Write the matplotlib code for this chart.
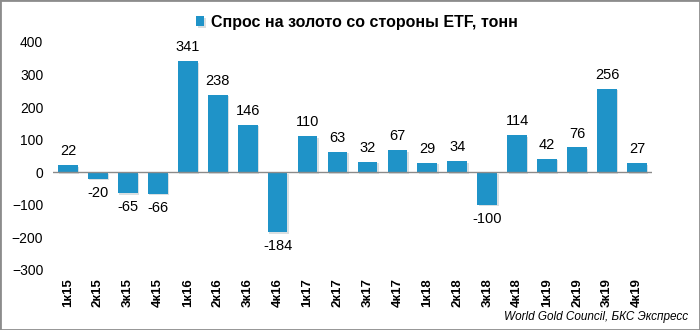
import matplotlib
matplotlib.use('Agg')
import matplotlib.pyplot as plt
import matplotlib.patheffects as pe
from matplotlib.patches import Rectangle

plt.rcParams['font.family'] = ['Liberation Sans', 'DejaVu Sans']

# ETF gold demand by quarter, tonnes
quarters = ['1к15', '2к15', '3к15', '4к15', '1к16', '2к16', '3к16', '4к16',
            '1к17', '2к17', '3к17', '4к17', '1к18', '2к18', '3к18', '4к18',
            '1к19', '2к19', '3к19', '4к19']
demand = [22, -20, -65, -66, 341, 238, 146, -184, 110, 63, 32, 67,
          29, 34, -100, 114, 42, 76, 256, 27]

bar_color = '#1f93c8'

fig = plt.figure(figsize=(7, 3.3), dpi=100)
ax = fig.add_axes([0.0757, 0.182, 0.8557, 0.691])

x = range(len(quarters))
bars = ax.bar(x, demand, width=0.66, color=bar_color,
              label='Спрос на золото со стороны ETF, тонн', zorder=2)
for b in bars:
    b.set_path_effects([pe.SimplePatchShadow(offset=(1, -1.2), alpha=0.15),
                        pe.Normal()])

# value labels above positive bars, below negative ones
for xi, v in zip(x, demand):
    off = 5 if v >= 0 else -5
    ax.annotate(str(v), (xi, v), xytext=(0, off), textcoords='offset points',
                ha='center', va='bottom' if v >= 0 else 'top', fontsize=10.5)

ax.axhline(0, color='#8a8a8a', lw=1, zorder=3)

ax.set_xlim(-0.5, len(quarters) - 0.5)
ax.set_ylim(-300, 400)
ax.set_yticks(range(-300, 401, 100))
ax.set_xticks(list(x))
ax.set_xticklabels(quarters, rotation=90, fontweight='bold', fontsize=9.5)
ax.tick_params(axis='y', length=0, pad=7, labelsize=10)
ax.tick_params(axis='x', length=0, pad=6)
for s in ax.spines.values():
    s.set_visible(False)

fig.legend(loc='center', bbox_to_anchor=(0.51, 0.933), frameon=False,
           prop={'weight': 'bold', 'size': 11.5},
           handlelength=0.5, handleheight=0.6, handletextpad=0.4)

fig.text(0.983, 0.04, 'World Gold Council, БКС Экспресс', ha='right',
         va='center', style='italic', fontsize=8.5)

fig.add_artist(Rectangle((0, 0), 1, 1, transform=fig.transFigure,
                         fill=False, edgecolor='#8c8c8c', lw=2))

fig.savefig('out.png', dpi=100)
